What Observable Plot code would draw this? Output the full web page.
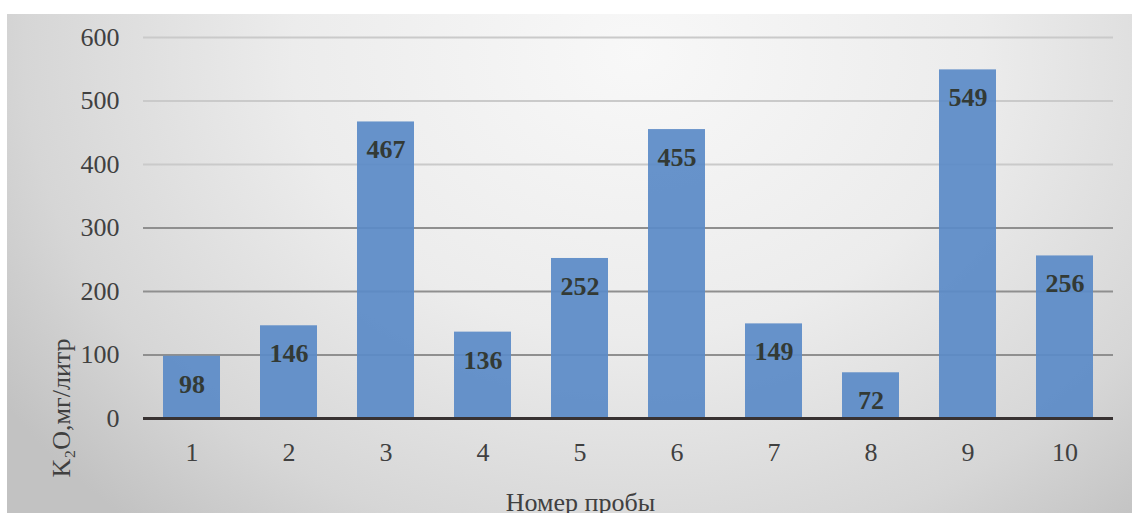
<!DOCTYPE html>
<html>
<head>
<meta charset="utf-8">
<script src="https://cdn.jsdelivr.net/npm/d3@7"></script>
<script src="https://cdn.jsdelivr.net/npm/@observablehq/plot@0.6"></script>
<style>
  html, body { margin: 0; padding: 0; background: #fff; width: 1132px; height: 513px; overflow: hidden; }
  #chart {
    position: absolute; left: 7px; top: 14px; width: 1125px; height: 499px;
    background: radial-gradient(ellipse 68% 125% at 56% 8%, #f8f8f8 0%, #ececec 45%, #d6d6d6 80%, #c2c2c2 100%);
  }
  #chart svg { display: block; }
</style>
</head>
<body>
<div id="chart"></div>
<script>
// Sample numbers and measured K2O concentration (mg/l)
const samples = ["1", "2", "3", "4", "5", "6", "7", "8", "9", "10"];
const potassium = [98, 146, 467, 136, 252, 455, 149, 72, 549, 256];
const yTicks = [0, 100, 200, 300, 400, 500, 600];
const yTitle = "K₂O,мг/литр";
const xTitle = "Номер пробы";

const data = samples.map((s, i) => ({sample: s, value: potassium[i]}));

const plot = Plot.plot({
  width: 1125,
  height: 499,
  marginLeft: 136,
  marginRight: 19,
  marginTop: 23,
  marginBottom: 95,
  style: {
    background: "transparent",
    fontFamily: "'Liberation Serif', 'Times New Roman', serif",
    fontSize: "26px",
    color: "#404040"
  },
  x: {domain: samples, paddingInner: 0.41, paddingOuter: 0.205, label: null},
  y: {domain: [0, 600], label: null},
  marks: [
    // horizontal gridlines
    Plot.ruleY(yTicks.filter(d => d > 0), {
      stroke: d => d >= 400 ? "#cacaca" : "#8f8f8f",
      strokeWidth: 2
    }),
    Plot.barY(data, {x: "sample", y: "value", fill: "#5b8bc7", fillOpacity: 0.93}),
    // baseline
    Plot.ruleY([0], {stroke: "#383232", strokeWidth: 3}),
    Plot.axisX({tickSize: 0, tickPadding: 24, label: null}),
    Plot.axisY({ticks: yTicks, tickSize: 0, tickPadding: 24, label: null}),
    // value labels inside the bars
    Plot.text(data, {
      x: "sample", y: "value", text: d => String(d.value),
      lineAnchor: "top", dy: 18, fontWeight: "bold", fill: "#333a35"
    }),
    // axis titles
    Plot.text([yTitle], {
      frameAnchor: "bottom-left", rotate: -90, textAnchor: "start", lineAnchor: "middle",
      dx: -82, dy: 59, fill: "#404040"
    }),
    Plot.text([xTitle], {
      frameAnchor: "bottom", lineAnchor: "top", dx: -48, dy: 74, fill: "#404040"
    })
  ]
});

document.getElementById("chart").appendChild(plot);
</script>
</body>
</html>
